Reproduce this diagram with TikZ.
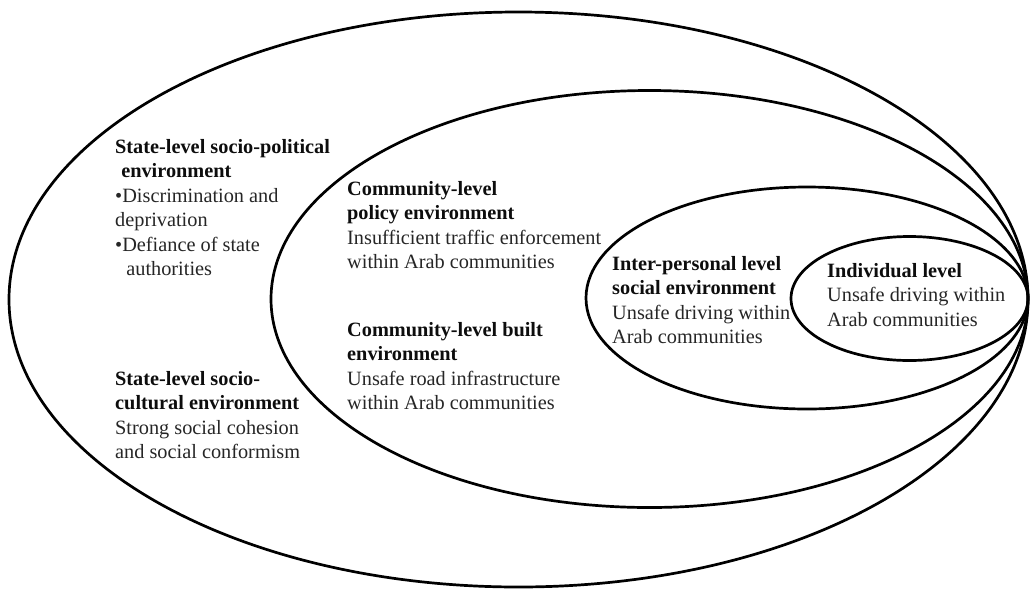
\documentclass[tikz,border=0pt]{standalone}
\usepackage{fontspec}
\setmainfont{Liberation Serif}
\begin{document}
\begin{tikzpicture}[x=1pt, y=-1pt,
  ring/.style={draw=black, line width=2.7pt},
  txt/.style={anchor=north west, inner sep=0pt, align=left, text=black!85,
    font=\fontsize{20.3}{24.5}\selectfont},
]
\newcommand{\lead}{\rule{0pt}{17pt}}
\newcommand{\hd}[1]{\textcolor{black!95}{\textbf{#1}}}
\useasboundingbox (0,0) rectangle (1030,590);
\fill[white] (0,0) rectangle (1030,590);

% nested levels, all touching at the right edge
\draw[ring] (518.5,299.5) ellipse [x radius=509.5pt, y radius=287.5pt];
\draw[ring] (649.5,299)   ellipse [x radius=378.5pt, y radius=208.5pt];
\draw[ring] (807,298)     ellipse [x radius=221pt,   y radius=111pt];
\draw[ring] (909.5,298.5) ellipse [x radius=118.5pt, y radius=62pt];

% state level
\node[txt] (sociopol) at (115,153-17) {\lead\hd{State-level socio-political}\\
  \hspace{0.3em}\hd{environment}\\
  •Discrimination and\\
  deprivation\\
  •Defiance of state\\
  \hspace{0.55em}authorities};
\node[txt] (sociocult) at (115,385-17) {\lead\hd{State-level socio-}\\
  \hd{cultural environment}\\
  Strong social cohesion\\
  and social conformism};

% community level
\node[txt] (policy) at (347,195-17) {\lead\hd{Community-level}\\
  \hd{policy environment}\\
  Insufficient traffic enforcement\\
  within Arab communities};
\node[txt] (built) at (347,336-17) {\lead\hd{Community-level built}\\
  \hd{environment}\\
  Unsafe road infrastructure\\
  within Arab communities};

% inter-personal level
\node[txt] (social) at (612,270-17) {\lead\hd{Inter-personal level}\\
  \hd{social environment}\\
  Unsafe driving within\\
  Arab communities};

% individual level
\node[txt] (individual) at (827,277-17) {\lead\hd{Individual level}\\
  Unsafe driving within\\
  Arab communities};
\end{tikzpicture}
\end{document}
